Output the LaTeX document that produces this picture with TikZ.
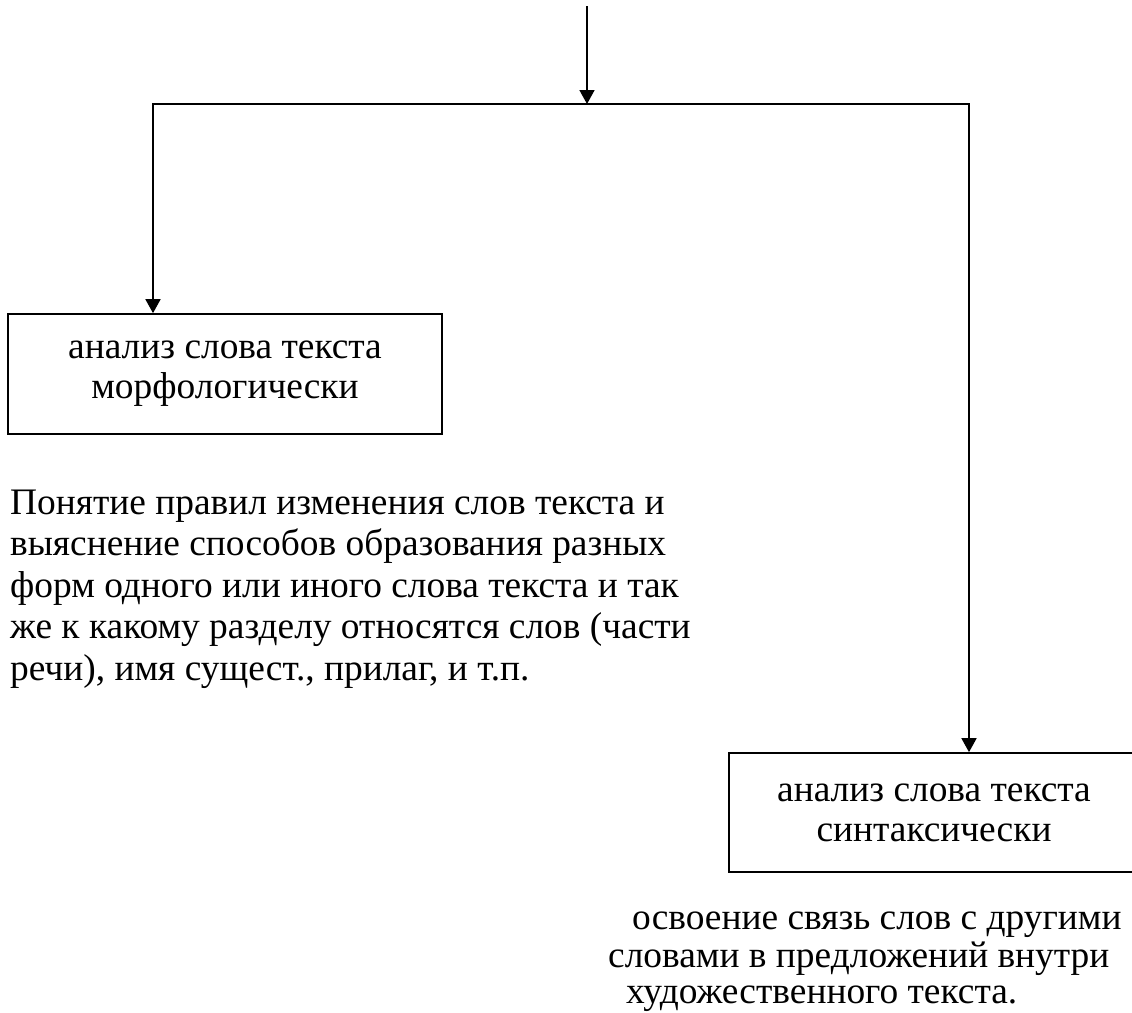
\documentclass[tikz,border=0pt]{standalone}
\usepackage{fontspec}
\setmainfont{Liberation Serif}
\usetikzlibrary{arrows.meta}
\begin{document}
\begin{tikzpicture}[x=1pt,y=-1pt,
  every node/.style={font=\fontsize{37.4}{40}\selectfont},
  conn/.style={line width=1.7pt},
  arr/.style={conn,-{Triangle[width=15pt,length=14pt]}},
  box/.style={draw,line width=1.7pt,align=center,inner sep=0pt},
  txt/.style={anchor=base west,inner sep=0pt}]
\useasboundingbox (0,0) rectangle (1132,1012);
\coordinate (top) at (587,6);
\coordinate (jn) at (587,104);
\coordinate (cl) at (153,104);
\coordinate (cr) at (969,104);
\node[box,minimum width=434pt,minimum height=120pt] (L) at (225,374) {анализ слова текста\\морфологически};
\node[box,minimum width=410pt,minimum height=119pt] (R) at (934,812.5) {анализ слова текста\\синтаксически};
\draw[arr] (top) -- (jn);
\draw[arr] (cr) -- (cl) -- (cl |- L.north);
\draw[arr] (cl) -- (cr) -- (cr |- R.north);
\node[txt] (p1) at (10,514) {Понятие правил изменения слов текста и};
\node[txt] (p2) at (10,555.5) {выяснение способов образования разных};
\node[txt] (p3) at (10,597) {форм одного или иного слова текста и так};
\node[txt] (p4) at (10,638.5) {же к какому разделу относятся слов (части};
\node[txt] (p5) at (10,680) {речи), имя сущест., прилаг, и т.п.};
\node[txt] (q1) at (632,929) {освоение связь слов с другими};
\node[txt] (q2) at (608,967) {словами в предложений внутри};
\node[txt] (q3) at (626,1003.5) {художественного текста.};
\end{tikzpicture}
\end{document}
